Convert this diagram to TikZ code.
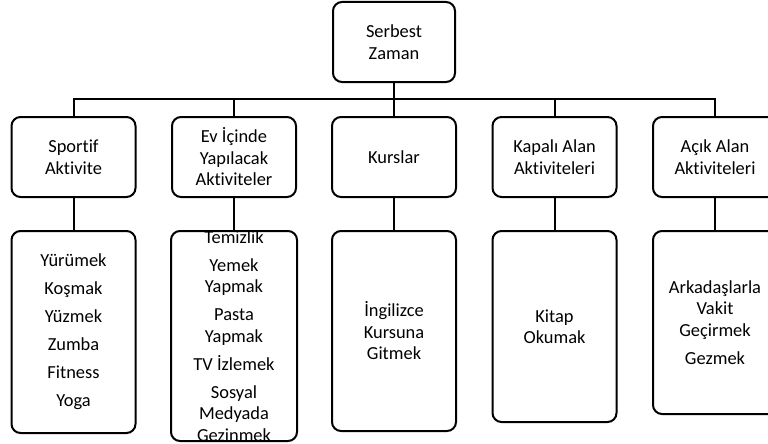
\documentclass[tikz,border=0pt]{standalone}
\usepackage{fontspec}
\setmainfont{Carlito}[Ligatures=NoCommon]
\begin{document}
\begin{tikzpicture}[x=1pt,y=-1pt,
  box/.style={draw=black, line width=2pt, rounded corners=9pt, fill=white,
    minimum width=124pt, align=center, inner sep=0pt,
    font=\fontsize{18.4}{21.5}\selectfont},
  head/.style={box, minimum height=80pt},
  boxtext/.style={align=center, inner sep=0pt, font=\fontsize{18.4}{21.5}\selectfont},
  link/.style={draw=black, line width=2pt}]
\useasboundingbox (0,0) rectangle (768,444);
\clip (0,0) rectangle (768,444);

% top level
\node[head, minimum width=122pt] (root) at (394,42) {Serbest\\Zaman};

% categories
\node[head] (c1) at (73.5,157) {Sportif\\Aktivite};
\node[head] (c2) at (234,157) {Ev İçinde\\Yapılacak\\Aktiviteler};
\node[head] (c3) at (394,157) {Kurslar};
\node[head] (c4) at (554.5,157) {Kapalı Alan\\Aktiviteleri};
\node[head] (c5) at (715,157) {Açık Alan\\Aktiviteleri};

% activity lists
\node[box, minimum height=202pt] (l1) at (73.5,332)
  {Yürümek\\[6.5pt]Koşmak\\[6.5pt]Yüzmek\\[6.5pt]Zumba\\[6.5pt]Fitness\\[6.5pt]Yoga};
% this list is longer than its box: the text is clipped to the frame
\node[box, draw=none, minimum height=208pt] (l2) at (234,336) {};
\begin{scope}
  \clip[rounded corners=8pt] ([shift={(1,1)}]l2.north west) rectangle ([shift={(-1,-1)}]l2.south east);
  \node[boxtext] (l2t) at (l2.center)
    {Temizlik\\[6.5pt]Yemek\\Yapmak\\[6.5pt]Pasta\\Yapmak\\[6.5pt]TV İzlemek\\[6.5pt]Sosyal\\Medyada\\Gezinmek};
\end{scope}
\draw[line width=2pt, rounded corners=9pt] (l2.north west) rectangle (l2.south east);
\node[box, minimum height=200pt] (l3) at (394,331) {İngilizce\\Kursuna\\Gitmek};
\node[box, minimum height=191pt] (l4) at (554.5,326.5) {Kitap\\Okumak};
\node[box, minimum height=183pt] (l5) at (715,322.5)
  {Arkadaşlarla\\Vakit\\Geçirmek\\[6.5pt]Gezmek};

% connectors
\coordinate (bar) at (394,99);
\draw[link] (root.south) -- (bar);
\foreach \c in {c1,c2,c3,c4,c5} \draw[link] (bar) -| (\c.north);
\foreach \i in {1,...,5} \draw[link] (c\i.south) -- (l\i.north);
\end{tikzpicture}
\end{document}
